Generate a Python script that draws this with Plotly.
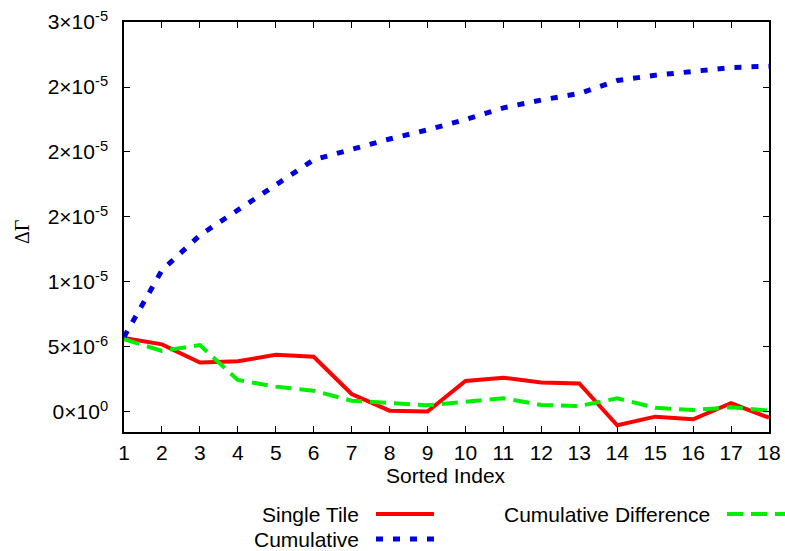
import plotly.graph_objects as go

x = list(range(1, 19))
single_tile = [5.7, 5.2, 3.8, 3.9, 4.4, 4.25, 1.38, 0.1, 0.03, 2.38, 2.64, 2.26, 2.2, -1.02, -0.36, -0.56, 0.67, -0.44]
cumulative = [5.77, 10.9, 13.6, 15.5, 17.5, 19.4, 20.2, 21.0, 21.7, 22.5, 23.4, 24.0, 24.5, 25.5, 25.9, 26.2, 26.5, 26.6]
cum_diff = [5.6, 4.7, 5.15, 2.46, 1.95, 1.64, 0.87, 0.72, 0.51, 0.79, 1.05, 0.54, 0.46, 1.05, 0.33, 0.15, 0.36, 0.1]
single_tile = [v * 1e-6 for v in single_tile]
cumulative = [v * 1e-6 for v in cumulative]
cum_diff = [v * 1e-6 for v in cum_diff]

ytick_vals = [0, 5e-6, 1e-5, 1.5e-5, 2e-5, 2.5e-5, 3e-5]
ytick_text = ["0×10<sup>0</sup>", "5×10<sup>-6</sup>", "1×10<sup>-5</sup>", "2×10<sup>-5</sup>",
              "2×10<sup>-5</sup>", "2×10<sup>-5</sup>", "3×10<sup>-5</sup>"]

RED = "#ff0000"
BLUE = "#0000dd"
GREEN = "#00ee00"
BLUE_DASH = "7px,10px"
GREEN_DASH = "16px,8px"

W, H = 785, 551
L, R, T, B = 124, 769, 22, 432  # plot area in pixels

fig = go.Figure()
fig.add_trace(go.Scatter(x=x, y=single_tile, mode="lines", name="Single Tile",
                         line=dict(color=RED, width=4), showlegend=False))
fig.add_trace(go.Scatter(x=x, y=cumulative, mode="lines", name="Cumulative",
                         line=dict(color=BLUE, width=5, dash=BLUE_DASH), showlegend=False))
fig.add_trace(go.Scatter(x=x, y=cum_diff, mode="lines", name="Cumulative Difference",
                         line=dict(color=GREEN, width=4, dash=GREEN_DASH), showlegend=False))

FONT = "Liberation Sans, Arial, Helvetica"
FS = 21
axis_common = dict(showline=True, linecolor="black", linewidth=1.5, mirror="allticks",
                   ticks="inside", ticklen=6, tickcolor="black", tickwidth=1,
                   showgrid=False, zeroline=False, automargin=False,
                   tickfont=dict(family=FONT, size=FS, color="black"))

fig.update_xaxes(range=[1, 18], tickvals=x, ticklabelstandoff=1, **axis_common)
fig.update_yaxes(range=[-1.54e-6, 3e-5], tickvals=ytick_vals, ticktext=ytick_text,
                 ticklabelstandoff=10, **axis_common)


def px_to_paper(px, py):
    return (px - L) / (R - L), (B - py) / (B - T)


legend_font = dict(family=FONT, size=FS, color="black")
# (label, text right edge px, row y px, colour, dash, width, sample x0, sample x1)
entries = [
    ("Single Tile", 361, 514, RED, "solid", 4, 376, 434),
    ("Cumulative", 361, 539, BLUE, BLUE_DASH, 5, 376, 434),
    ("Cumulative Difference", 712, 514, GREEN, GREEN_DASH, 4, 727, 785),
]
annotations = []
shapes = []
for name, xr, yp, col, dash, w, s0, s1 in entries:
    ax, ay = px_to_paper(xr, yp)
    annotations.append(dict(text=name, x=ax, y=ay, xref="paper", yref="paper",
                            xanchor="right", yanchor="middle", showarrow=False, font=legend_font))
    x0, yy = px_to_paper(s0, yp)
    x1, _ = px_to_paper(s1, yp)
    shapes.append(dict(type="line", xref="paper", yref="paper", x0=x0, x1=x1, y0=yy, y1=yy,
                       line=dict(color=col, width=w, dash=dash)))

tx, ty = px_to_paper(446, 475)
annotations.append(dict(text="Sorted Index", x=tx, y=ty, xref="paper", yref="paper",
                        xanchor="center", yanchor="middle", showarrow=False, font=legend_font))
gx, gy = px_to_paper(22, 232)
annotations.append(dict(text="ΔΓ", x=gx, y=gy, xref="paper", yref="paper", textangle=-90,
                        xanchor="center", yanchor="middle", showarrow=False,
                        font=dict(family="Liberation Serif, Times New Roman", size=20, color="black")))

fig.update_layout(width=W, height=H, margin=dict(l=L, r=W - R, t=T, b=H - B),
                  plot_bgcolor="white", paper_bgcolor="white",
                  annotations=annotations, shapes=shapes)

fig.write_html("out.html")
